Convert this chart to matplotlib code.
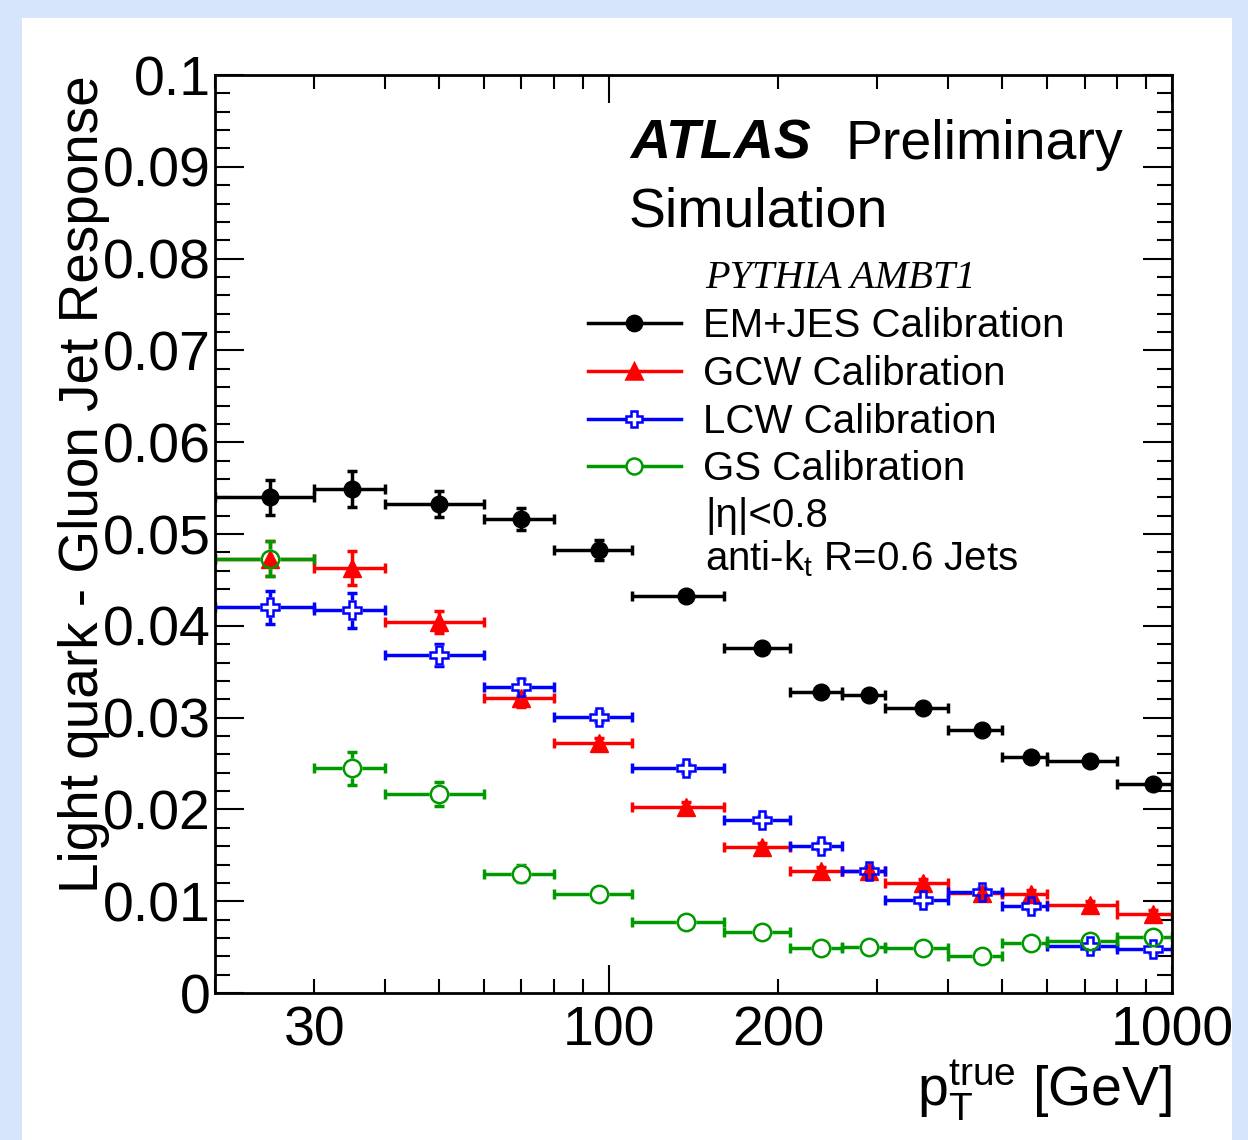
import numpy as np
import matplotlib
matplotlib.use('Agg')
import matplotlib.pyplot as plt
import matplotlib.ticker as plticker
from matplotlib.lines import Line2D
from matplotlib.patches import Rectangle

plt.rcParams['font.family'] = 'Liberation Sans'
plt.rcParams['mathtext.fontset'] = 'custom'
plt.rcParams['mathtext.rm'] = 'Liberation Sans'
plt.rcParams['mathtext.default'] = 'regular'

# pT bins [GeV] and mean pT of each bin
bin_edges = [20, 30, 40, 60, 80, 110, 160, 210, 260, 310, 400, 500, 600, 800, 1000]
pt_mean = [25, 35, 50, 70, 96, 137, 187, 238, 290, 361, 460, 562, 716, 924]

# light quark - gluon response difference
em_jes = [0.0540, 0.0549, 0.0533, 0.0516, 0.0483, 0.0433, 0.0376, 0.0328, 0.0325,
          0.0310, 0.0287, 0.0257, 0.0253, 0.0228]
em_jes_err = [0.0019, 0.0020, 0.0014, 0.0012, 0.0011, 0.0005, 0.0004, 0.0004, 0.0004,
              0.0004, 0.0004, 0.0004, 0.0004, 0.0004]
gcw = [0.0473, 0.0463, 0.0404, 0.0321, 0.0272, 0.0203, 0.0159, 0.0133, 0.0133,
       0.0120, 0.0109, 0.0108, 0.0096, 0.0086]
gcw_err = [0.0019, 0.0018, 0.0012, 0.0009, 0.0006, 0.0005, 0.0004, 0.0004, 0.0004,
           0.0004, 0.0004, 0.0004, 0.0004, 0.0004]
lcw = [0.0420, 0.0417, 0.0368, 0.0333, 0.0301, 0.0245, 0.0189, 0.0160, 0.0133,
       0.0101, 0.0110, 0.0095, 0.0051, 0.0048]
lcw_err = [0.0018, 0.0019, 0.0012, 0.0009, 0.0006, 0.0005, 0.0004, 0.0004, 0.0004,
           0.0004, 0.0004, 0.0004, 0.0004, 0.0004]
gs = [0.0473, 0.0245, 0.0217, 0.0130, 0.0108, 0.0077, 0.0066, 0.0049, 0.0050,
      0.0049, 0.0040, 0.0054, 0.0057, 0.0061]
gs_err = [0.0019, 0.0018, 0.0013, 0.0009, 0.0005, 0.0004, 0.0004, 0.0004, 0.0004,
          0.0004, 0.0004, 0.0004, 0.0004, 0.0004]

fig = plt.figure(figsize=(12.48, 11.40), dpi=100)
fig.patch.set_facecolor('#d6e4fc')
fig.add_artist(Rectangle((0.0176, 0.0), 0.9696, 0.9842, transform=fig.transFigure,
                         facecolor='white', edgecolor='none', zorder=-10))
ax = fig.add_axes([0.1723, 0.1289, 0.7668, 0.8053])
ax.set_facecolor('none')

pt = np.array(pt_mean)
lo = pt - np.array(bin_edges[:-1])
hi = np.array(bin_edges[1:]) - pt

series = [
    (em_jes, em_jes_err, 'black', 'o', 'EM+JES Calibration', True, 12),
    (gcw, gcw_err, '#ff0000', '^', 'GCW Calibration', True, 13),
    (lcw, lcw_err, '#0000ff', 'P', 'LCW Calibration', False, 12.5),
    (gs, gs_err, '#009900', 'o', 'GS Calibration', False, 12.5),
]

# error bars first
for vals, err, col, mk, lab, filled, ms in series:
    ax.errorbar(pt, vals, xerr=[lo, hi], yerr=err, fmt='none', ecolor=col,
                elinewidth=2.5, capsize=3.8, capthick=2.5, zorder=2)

# white blanks for open markers, then filled, then open outlines
for vals, err, col, mk, lab, filled, ms in series:
    if not filled:
        ax.plot(pt, vals, ls='none', marker=mk, ms=ms, mfc='white', mec='white', mew=1.8, zorder=3)
for vals, err, col, mk, lab, filled, ms in series:
    if filled:
        ax.plot(pt, vals, ls='none', marker=mk, ms=ms, mfc=col, mec=col, zorder=4)
for vals, err, col, mk, lab, filled, ms in series:
    if not filled:
        ax.plot(pt, vals, ls='none', marker=mk, ms=ms, mfc='none', mec=col, mew=1.8, zorder=5)

ax.set_xscale('log')
ax.set_xlim(20, 1000)
ax.set_ylim(0, 0.1)

ax.xaxis.set_major_locator(plticker.LogLocator(base=10))
ax.xaxis.set_minor_locator(plticker.LogLocator(base=10, subs=np.arange(2, 10)))
xlabs = {30: '30', 100: '100', 200: '200', 1000: '1000'}
fmt = plticker.FuncFormatter(lambda v, p: xlabs.get(int(round(v)), ''))
ax.xaxis.set_major_formatter(fmt)
ax.xaxis.set_minor_formatter(fmt)
ax.yaxis.set_major_locator(plticker.MultipleLocator(0.01))
ax.yaxis.set_minor_locator(plticker.MultipleLocator(0.002))
ax.yaxis.set_major_formatter(plticker.FuncFormatter(lambda v, p: '%g' % round(v, 3)))

ax.tick_params(which='both', direction='in', top=True, right=True, labelsize=40, width=1.5)
ax.tick_params(axis='y', which='major', length=21, pad=3)
ax.tick_params(axis='y', which='minor', length=10.5)
ax.tick_params(axis='x', which='major', length=20, pad=9)
ax.tick_params(axis='x', which='minor', length=10, pad=9)
for s in ax.spines.values():
    s.set_linewidth(2)

ax.set_ylabel('Light quark - Gluon Jet Response', fontsize=39.5, loc='top')
ax.yaxis.set_label_coords(-0.11, 1.0)
ax.set_xlabel(r'p$_{T}^{true}$ [GeV]', fontsize=40, loc='right')
ax.xaxis.set_label_coords(1.0, -0.071)

ax.text(0.4337, 0.909, 'ATLAS', transform=ax.transAxes, fontsize=40,
        fontweight='bold', fontstyle='italic', va='baseline')
ax.text(0.659, 0.909, 'Preliminary', transform=ax.transAxes, fontsize=40, va='baseline')
ax.text(0.4316, 0.8355, 'Simulation', transform=ax.transAxes, fontsize=40, va='baseline')
ax.text(0.512, 0.768, 'PYTHIA AMBT1', transform=ax.transAxes, fontsize=29,
        family='Liberation Serif', fontstyle='italic', va='baseline')

handles = []
for vals, err, col, mk, lab, filled, ms in series:
    handles.append(Line2D([], [], color=col, lw=2.5, marker=mk, ms=ms - 1,
                          mfc=col if filled else 'white', mec=col, mew=1.8))
ax.legend(handles, [s[4] for s in series], loc='upper left', bbox_to_anchor=(0.3898, 0.747),
          frameon=False, fontsize=29, handlelength=2.3, handletextpad=0.55,
          labelspacing=0.24, borderpad=0, borderaxespad=0, numpoints=1)

ax.text(0.512, 0.5076, '|η|<0.8', transform=ax.transAxes, fontsize=29, va='baseline')
ax.text(0.512, 0.4608, r'anti-k$_t$ R=0.6 Jets', transform=ax.transAxes, fontsize=29,
        va='baseline')

fig.savefig('out.png', dpi=100, facecolor=fig.get_facecolor())
